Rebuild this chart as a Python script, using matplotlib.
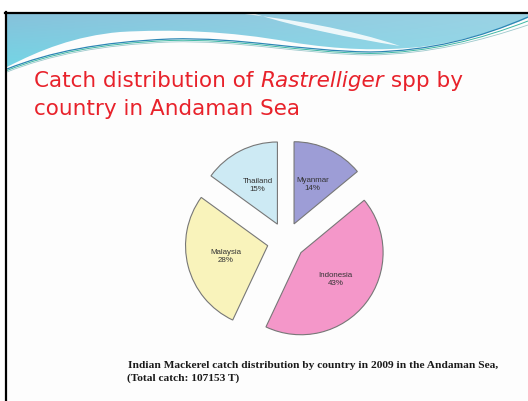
import numpy as np
import matplotlib.pyplot as plt
from matplotlib.path import Path
from matplotlib.patches import PathPatch

countries = ["Myanmar", "Indonesia", "Malaysia", "Thailand"]
shares = [14, 43, 28, 15]
colors = ["#9d9dd6", "#f497c9", "#f9f3bb", "#cdeaf4"]

title_lines = ["Catch distribution of ", "Rastrelliger", " spp by", "country in Andaman Sea"]
caption = ["Indian Mackerel catch distribution by country in 2009 in the Andaman Sea,",
           "(Total catch: 107153 T)"]

W, H = 528, 401
fig = plt.figure(figsize=(W / 100, H / 100), dpi=100)
fig.patch.set_facecolor("white")

# slide background in pixel coordinates
bg = fig.add_axes([0, 0, 1, 1])
bg.set_xlim(0, W)
bg.set_ylim(H, 0)
bg.axis("off")
bg.add_patch(plt.Rectangle((6, 13), W, H, facecolor="#fdfdfd", edgecolor="none"))

# blue header band with gradient
M, L, C4 = Path.MOVETO, Path.LINETO, Path.CURVE4
band = Path(
    [(7, 67), (40, 50), (75, 36), (120, 32),
     (170, 29), (230, 31), (290, 42),
     (340, 50), (380, 51), (420, 47),
     (460, 42), (500, 30), (528, 18),
     (528, 13), (7, 13), (7, 67)],
    [M, C4, C4, C4, C4, C4, C4, C4, C4, C4, C4, C4, C4, L, L, L])
band_patch = PathPatch(band, facecolor="none", edgecolor="none")
bg.add_patch(band_patch)
gx = np.linspace(0, 1, 200)
gy = np.linspace(0, 1, 60)
X, Y = np.meshgrid(gx, gy)
top = np.array([0.53, 0.76, 0.86])
bottom = np.array([0.45, 0.84, 0.90])
right = np.array([0.66, 0.87, 0.92])
grad = top * (1 - Y[..., None]) + bottom * Y[..., None]
grad = grad * (1 - 0.6 * X[..., None]) + right * 0.6 * X[..., None]
im = bg.imshow(grad, extent=(7, W, 70, 13), aspect="auto", zorder=1)
im.set_clip_path(band_patch)

# white streak across the band
streak = Path(
    [(236, 13), (290, 19), (350, 29), (400, 46),
     (350, 38), (300, 28), (252, 13), (236, 13)],
    [M, C4, C4, C4, C4, C4, C4, L])
bg.add_patch(PathPatch(streak, facecolor="white", edgecolor="none", alpha=0.85, zorder=2))

# thin swoosh lines under the band
def swoosh(dy, end_y, color, lw):
    p = Path(
        [(7, 69 + dy), (50, 52 + dy), (100, 42 + dy), (170, 39 + dy),
         (240, 37 + dy), (300, 51 + dy), (370, 52 + dy),
         (430, 51 + dy), (480, 38 + dy), (528, end_y)],
        [M, C4, C4, C4, C4, C4, C4, C4, C4, C4])
    bg.add_patch(PathPatch(p, facecolor="none", edgecolor=color, lw=lw, zorder=3))

swoosh(0, 17, "#2c86b4", 0.9)
swoosh(1.5, 21, "#3fb8a4", 0.7)
swoosh(3, 25, "#9cc8cc", 0.6)

# slide frame
bg.plot([6, 6], [12, H], color="black", lw=1.6, zorder=4)
bg.plot([5, W], [13, 13], color="black", lw=1.6, zorder=4)

# title, first line built from plain and italic pieces
title_kw = dict(color="#e8222b", fontsize=15.5, family="DejaVu Sans", va="baseline")
fig.canvas.draw()
r = fig.canvas.get_renderer()
x = 34
for part, style in zip(title_lines[:3], ["normal", "italic", "normal"]):
    tt = bg.text(x, 87, part, style=style, **title_kw)
    x += tt.get_window_extent(renderer=r).width
bg.text(34, 115, title_lines[3], **title_kw)

# pie chart, radius 79 px centred near (286, 241)
R = 79
half = 1.3
cx, cy = 286, 241
ax = fig.add_axes([(cx - half * R) / W, (H - cy - half * R) / H,
                   2 * half * R / W, 2 * half * R / H])
ax.set_xlim(-half, half)
ax.set_ylim(-half, half)
ax.axis("off")

names = iter(countries)
wedges, texts, autotexts = ax.pie(
    shares, colors=colors, startangle=90, counterclock=False,
    explode=[0.23] * len(shares), radius=1,
    wedgeprops=dict(edgecolor="#777777", linewidth=0.8),
    autopct=lambda p: f"{next(names)}\n{p:.0f}%", pctdistance=0.53,
    textprops=dict(fontsize=5.7, family="Liberation Sans", color="#333333",
                   linespacing=1.1))
ax.set_aspect("equal")

# caption
cap_kw = dict(fontsize=8.2, family="Liberation Serif", weight="bold", color="#1a1a1a")
bg.text(128, 368, caption[0], **cap_kw)
bg.text(127, 381, caption[1], **cap_kw)

fig.savefig("out.png", dpi=100)
